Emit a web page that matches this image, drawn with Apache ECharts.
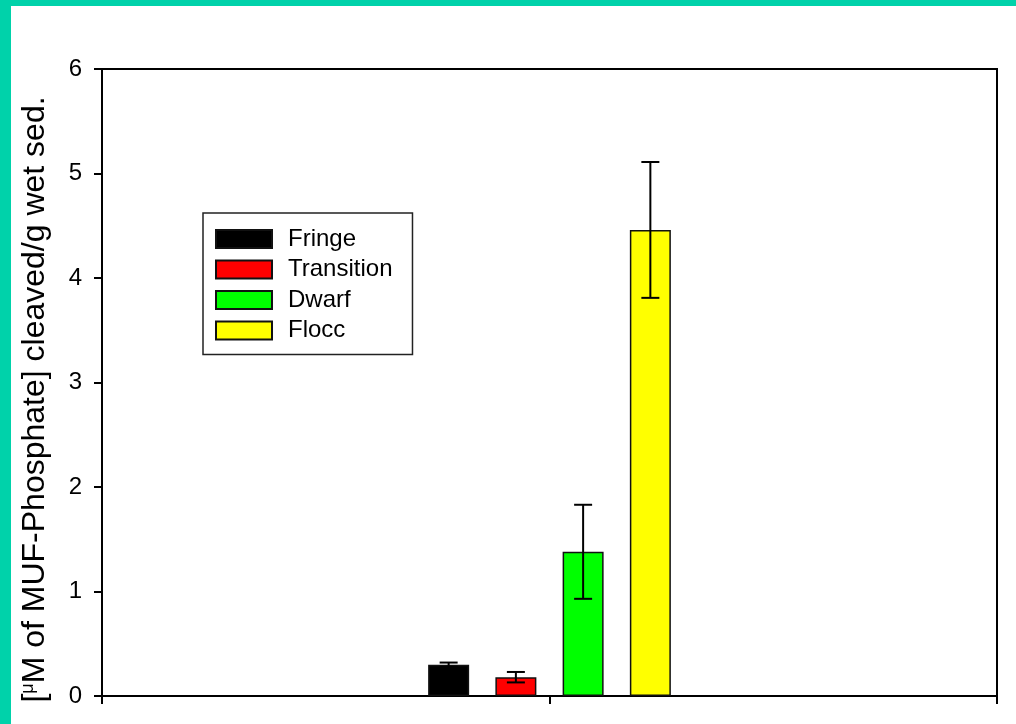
<!DOCTYPE html>
<html>
<head>
<meta charset="utf-8">
<script src="https://cdn.jsdelivr.net/npm/echarts@6/dist/echarts.min.js"></script>
<style>
  html, body { margin: 0; padding: 0; }
  #wrap {
    width: 1016px;
    height: 724px;
    background: #00d2aa;
    position: relative;
  }
  #myChart {
    position: absolute;
    left: 11px;
    top: 6px;
    width: 1005px;
    height: 718px;
    background: #fff;
  }
</style>
</head>
<body>
<div id="wrap">
  <!-- 图表 -->
  <div id="myChart"></div>
</div>
<script>
// 数据
var sites = ["Fringe", "Transition", "Dwarf", "Flocc"];
var means = [0.30, 0.18, 1.38, 4.46];
var errors = [0.02, 0.05, 0.45, 0.65];
var colors = ["#000000", "#ff0000", "#00ff00", "#ffff00"];
var yTicks = [0, 1, 2, 3, 4, 5, 6];

var barWidth = 41;
var barGap = 0.64;
var font = "Liberation Sans";

var myChart = echarts.init(document.getElementById("myChart"));

var series = [];
sites.forEach(function (name, i) {
  series.push({
    name: name,
    type: "bar",
    data: [[1, means[i]]],
    barWidth: barWidth,
    barGap: (barGap * 100) + "%",
    itemStyle: {
      color: colors[i],
      borderColor: "#111",
      borderWidth: 1.5
    },
    animation: false
  });
});

// 误差线
series.push({
  type: "custom",
  z: 10,
  silent: true,
  animation: false,
  data: sites.map(function (s, i) { return [i, means[i], errors[i]]; }),
  renderItem: function (params, api) {
    var i = api.value(0);
    var m = api.value(1);
    var e = api.value(2);
    var offset = (i - (sites.length - 1) / 2) * barWidth * (1 + barGap);
    var top = api.coord([1, m + e]);
    var bot = api.coord([1, m - e]);
    var x = top[0] + offset;
    var cap = 9;
    var style = { stroke: "#000", lineWidth: 2 };
    return {
      type: "group",
      children: [
        { type: "line", shape: { x1: x, y1: top[1], x2: x, y2: bot[1] }, style: style },
        { type: "line", shape: { x1: x - cap, y1: top[1], x2: x + cap, y2: top[1] }, style: style },
        { type: "line", shape: { x1: x - cap, y1: bot[1], x2: x + cap, y2: bot[1] }, style: style }
      ]
    };
  }
});

myChart.setOption({
  animation: false,
  grid: {
    left: 90,
    right: 19,
    top: 63,
    bottom: 28,
    show: true,
    borderColor: "#000",
    borderWidth: 2,
    backgroundColor: "transparent"
  },
  legend: {
    data: sites,
    orient: "vertical",
    left: 192,
    top: 207,
    itemWidth: 56,
    itemHeight: 18,
    itemGap: 6.5,
    padding: [14, 20, 12, 12],
    borderColor: "#222",
    borderWidth: 1.5,
    icon: "rect",
    textStyle: {
      fontFamily: font,
      fontSize: 24,
      color: "#000",
      padding: [0, 0, 0, 11]
    }
  },
  xAxis: {
    type: "value",
    min: 0,
    max: 2,
    interval: 1,
    axisLine: { lineStyle: { color: "#000", width: 2 } },
    axisTick: { show: true, length: 8, lineStyle: { color: "#000", width: 2 } },
    axisLabel: { show: false },
    splitLine: { show: false }
  },
  yAxis: {
    type: "value",
    min: yTicks[0],
    max: yTicks[yTicks.length - 1],
    interval: 1,
    name: "[{mu|μ}M of MUF-Phosphate] cleaved/g wet sed.",
    nameLocation: "middle",
    nameGap: 51,
    nameTextStyle: {
      fontFamily: font,
      fontSize: 32,
      color: "#000",
      padding: [0, 34, 0, 0],
      rich: {
        mu: { fontFamily: font, fontSize: 18, verticalAlign: "top", color: "#000" }
      }
    },
    axisLine: { show: true, lineStyle: { color: "#000", width: 2 } },
    axisTick: { show: true, length: 8, lineStyle: { color: "#000", width: 2 } },
    axisLabel: {
      margin: 20,
      fontFamily: font,
      fontSize: 24,
      color: "#000"
    },
    splitLine: { show: false }
  },
  series: series
});
</script>
</body>
</html>
